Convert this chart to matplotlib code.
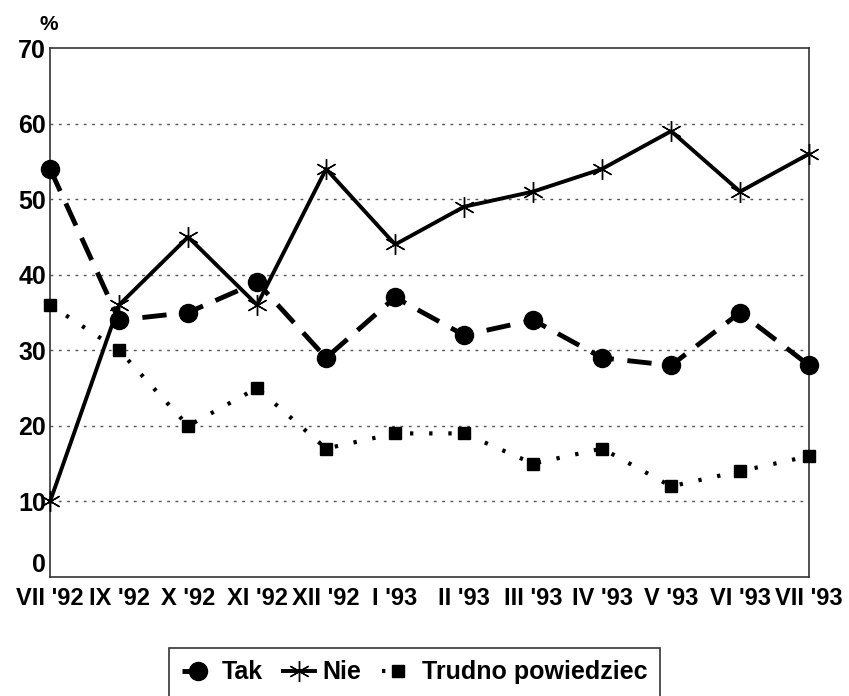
import matplotlib.pyplot as plt

months = ["VII '92", "IX '92", "X '92", "XI '92", "XII '92", "I '93", "II '93",
          "III '93", "IV '93", "V '93", "VI '93", "VII '93"]
tak = [54, 34, 35, 39, 29, 37, 32, 34, 29, 28, 35, 28]
nie = [10, 36, 45, 36, 54, 44, 49, 51, 54, 59, 51, 56]
trudno = [36, 30, 20, 25, 17, 19, 19, 15, 17, 12, 14, 16]

plt.rcParams['font.family'] = ['Liberation Sans', 'DejaVu Sans']
plt.rcParams['font.weight'] = 'bold'

fig = plt.figure(figsize=(8.49, 6.96), dpi=100)
ax = fig.add_axes([0.059, 0.171, 0.894, 0.76])

x = range(len(months))
ax.plot(x, tak, color='black', lw=3.5, ls=(0, (5, 2.8)), marker='o', ms=13,
        label='Tak', clip_on=False, zorder=3)
ax.plot(x, nie, color='black', lw=2.8, ls='-', marker=(6, 2, 0), ms=15, mew=1,
        label='Nie', clip_on=False, zorder=4)
ax.plot(x, trudno, color='black', lw=3, ls=(0, (0.8, 3.8)), marker='s', ms=8,
        label='Trudno powiedziec', clip_on=False, zorder=3)

ax.set_xlim(0, len(months) - 1)
ax.set_ylim(0, 70)
ax.set_yticks(range(0, 71, 10))
ax.set_xticks(list(x))
ax.set_xticklabels(months)
ax.tick_params(axis='y', length=0, labelsize=18, pad=3)
ax.tick_params(axis='x', length=0, labelsize=17, pad=7)
ax.get_yticklabels()[0].set_va('bottom')
for y in range(10, 61, 10):
    ax.axhline(y, color='#555555', lw=1, ls=(0, (2, 4)), zorder=0)
for s in ax.spines.values():
    s.set_color('#333333')
    s.set_linewidth(1.2)

fig.text(0.058, 0.965, '%', fontsize=15, ha='center', va='center', fontweight='bold')

leg = fig.legend(loc='upper center', bbox_to_anchor=(0.488, 0.069), ncol=3,
                 fontsize=18, frameon=True, fancybox=False, edgecolor='black',
                 handlelength=1.3, handletextpad=0.3, columnspacing=0.8,
                 borderpad=0.5, borderaxespad=0)
leg.get_frame().set_linewidth(1.2)

fig.savefig('out.png', dpi=100)
